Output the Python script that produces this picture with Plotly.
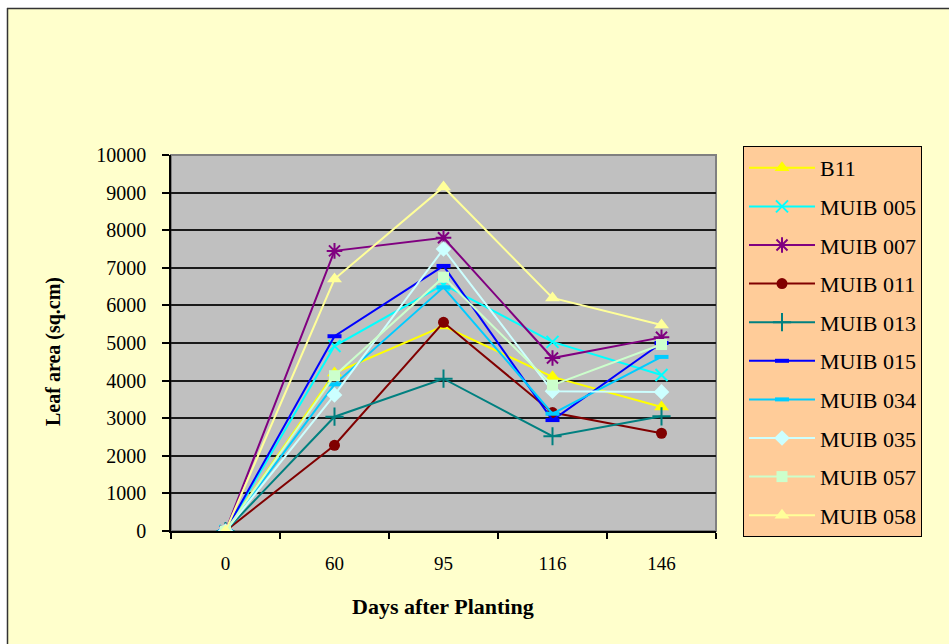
import plotly.graph_objects as go

# Days after planting (category axis)
days = ["0", "60", "95", "116", "146"]

# Leaf area (sq.cm) per genotype
b11 = [0, 4200, 5450, 4100, 3300]
muib_005 = [0, 4920, 6550, 5030, 4150]
muib_007 = [0, 7450, 7800, 4600, 5150]
muib_011 = [0, 2280, 5550, 3150, 2600]
muib_013 = [0, 3040, 4050, 2520, 3050]
muib_015 = [0, 5180, 7050, 2950, 5000]
muib_034 = [0, 3900, 6480, 3120, 4630]
muib_035 = [0, 3620, 7500, 3720, 3700]
muib_057 = [0, 4130, 6750, 3880, 4960]
muib_058 = [0, 6700, 9150, 6200, 5480]

y_ticks = [0, 1000, 2000, 3000, 4000, 5000, 6000, 7000, 8000, 9000, 10000]

series = [
    ("B11", b11, "#FFFF00", "triangle-up", 13, 0),
    ("MUIB 005", muib_005, "#00FFFF", "x-thin-open", 12, 2),
    ("MUIB 007", muib_007, "#800080", "asterisk-open", 13, 2),
    ("MUIB 011", muib_011, "#800000", "circle", 11, 0),
    ("MUIB 013", muib_013, "#008080", "cross-thin-open", 13, 2),
    ("MUIB 015", muib_015, "#0000FF", "line-ew-open", 10, 4),
    ("MUIB 034", muib_034, "#00CCFF", "line-ew-open", 10, 4),
    ("MUIB 035", muib_035, "#CCFFFF", "diamond", 12, 0),
    ("MUIB 057", muib_057, "#CCFFCC", "square", 11, 0),
    ("MUIB 058", muib_058, "#FFFF99", "triangle-up", 13, 0),
]

W, H = 949, 644
L, R, T, B = 171, 716, 155, 531  # plot area in pixels


def px(x):
    return (x - L) / (R - L)


def py(y):
    return (B - y) / (B - T)


fig = go.Figure()
for name, vals, color, sym, size, lw in series:
    fig.add_trace(go.Scatter(
        x=days, y=vals, name=name, mode="lines+markers",
        legendgroup=name,
        line=dict(color=color, width=2),
        marker=dict(symbol=sym, size=size, color=color,
                    line=dict(color=color, width=lw)),
    ))

serif = "Liberation Serif, Times New Roman, serif"
cream = "#FFFFCC"

shapes = [
    # white margin outside the chart frame
    dict(type="rect", xref="paper", yref="paper", x0=px(0), x1=px(W), y0=py(0), y1=py(8),
         fillcolor="white", line=dict(width=0), layer="below"),
    dict(type="rect", xref="paper", yref="paper", x0=px(0), x1=px(7), y0=py(0), y1=py(H),
         fillcolor="white", line=dict(width=0), layer="below"),
    # chart frame
    dict(type="line", xref="paper", yref="paper", x0=px(7), x1=px(W + 5), y0=py(8.5), y1=py(8.5),
         line=dict(color="#333333", width=1.5)),
    dict(type="line", xref="paper", yref="paper", x0=px(7.5), x1=px(7.5), y0=py(8), y1=py(H + 5),
         line=dict(color="#333333", width=1.5)),
    # plot area border
    dict(type="rect", xref="paper", yref="paper", x0=0, x1=1, y0=0, y1=1,
         line=dict(color="#808080", width=2), layer="below"),
]

fig.update_layout(
    width=W, height=H,
    margin=dict(l=L, r=W - R, t=T, b=H - B),
    paper_bgcolor=cream,
    plot_bgcolor="#C0C0C0",
    font=dict(family=serif, color="black"),
    shapes=shapes,
    showlegend=True,
    legend=dict(
        x=px(743), y=py(146), xanchor="left", yanchor="top",
        bgcolor="#FFCC99", bordercolor="black", borderwidth=1,
        font=dict(family=serif, size=22, color="black"),
        tracegroupgap=7, itemwidth=66, maxheight=1.0,
    ),
    xaxis=dict(
        type="category", categoryorder="array", categoryarray=days,
        range=[-0.5, 4.5], showgrid=False, zeroline=False,
        ticks="outside", tickson="boundaries", ticklen=6, tickcolor="black", tickwidth=1.5,
        showline=True, linecolor="black", linewidth=1.5,
        tickfont=dict(family=serif, size=19, color="black"),
        ticklabelstandoff=14,
    ),
    yaxis=dict(
        range=[0, 10000], tickvals=y_ticks, ticktext=[str(v) for v in y_ticks],
        showgrid=True, gridcolor="#1a1a1a", gridwidth=2, zeroline=False,
        ticks="outside", ticklen=7, tickcolor="black", tickwidth=1.5,
        showline=True, linecolor="black", linewidth=1.5,
        tickfont=dict(family=serif, size=20, color="black"),
        ticklabelstandoff=12,
    ),
    annotations=[
        dict(text="<b>Days after Planting</b>", xref="paper", yref="paper",
             x=px(443), y=py(606), xanchor="center", yanchor="middle", showarrow=False,
             font=dict(family=serif, size=22, color="black")),
        dict(text="<b>Leaf area (sq.cm)</b>", xref="paper", yref="paper",
             x=px(53), y=py(352), xanchor="center", yanchor="middle", showarrow=False,
             textangle=-90, font=dict(family=serif, size=20, color="black")),
    ],
)

fig.write_html("out.html")
